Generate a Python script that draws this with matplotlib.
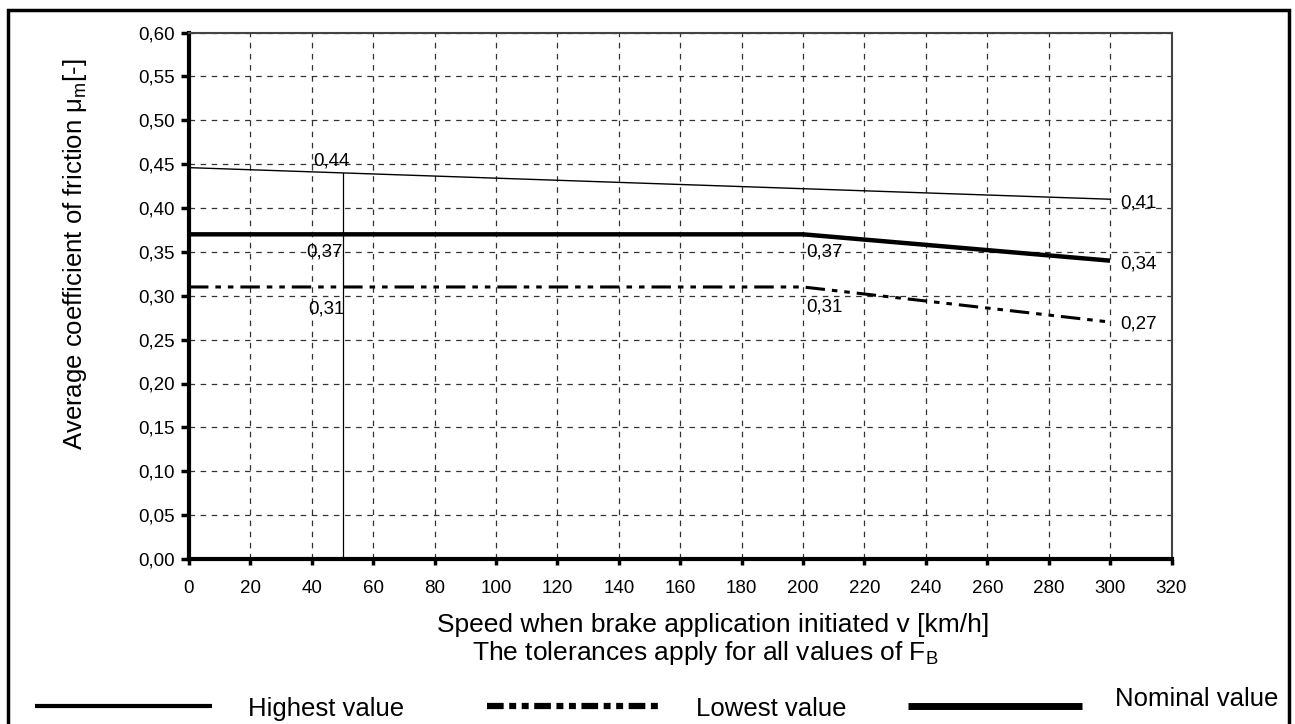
import matplotlib
matplotlib.use("Agg")
import matplotlib.pyplot as plt
from matplotlib.lines import Line2D
from matplotlib.patches import Rectangle

plt.rcParams['font.family'] = ['Liberation Sans', 'DejaVu Sans']
plt.rcParams['mathtext.fontset'] = 'custom'
plt.rcParams['mathtext.rm'] = 'Liberation Sans'
plt.rcParams['mathtext.it'] = 'Liberation Sans'
plt.rcParams['lines.scale_dashes'] = False

# data
highest_v = [0, 300]
highest_mu = [0.446, 0.41]
nominal_v = [0, 200, 300]
nominal_mu = [0.37, 0.37, 0.34]
lowest_v = [0, 200, 300]
lowest_mu = [0.31, 0.31, 0.27]
marker_v = 50
marker_mu = 0.44

# value labels: (x, baseline y, text)
value_labels = [
    (40.4, 0.448, "0,44"),
    (38.1, 0.345, "0,37"),
    (38.8, 0.280, "0,31"),
    (201, 0.345, "0,37"),
    (201, 0.2815, "0,31"),
    (303.2, 0.401, "0,41"),
    (303.2, 0.3316, "0,34"),
    (303.2, 0.2632, "0,27"),
]

x_ticks = list(range(0, 321, 20))
y_ticks = [i * 0.05 for i in range(13)]
y_ticklabels = [f"{v:.2f}".replace(".", ",") for v in y_ticks]

W, H = 1295, 724
fig = plt.figure(figsize=(W / 100, H / 100), dpi=100)
ax = fig.add_axes([189 / W, 1 - 559 / H, (1171.5 - 189) / W, (559 - 32.5) / H])

ax.set_xlim(0, 320)
ax.set_ylim(0, 0.60)
ax.set_xticks(x_ticks)
ax.set_yticks(y_ticks)
ax.set_yticklabels(y_ticklabels)
ax.tick_params(axis='y', direction='out', length=6, width=2.5, labelsize=13.5, pad=4)
ax.tick_params(axis='x', direction='out', length=4, width=2.5, labelsize=13.5, pad=11)
ax.grid(True, color='#333333', linewidth=0.9, linestyle=(0, (4, 4)))
ax.set_axisbelow(True)

for side in ['left', 'bottom']:
    ax.spines[side].set_linewidth(3)
for side in ['top', 'right']:
    ax.spines[side].set_linewidth(1.5)
    ax.spines[side].set_color('#444444')

ax.plot(highest_v, highest_mu, color='black', linewidth=1.0)
ax.plot(nominal_v, nominal_mu, color='black', linewidth=3.2, solid_capstyle='butt')
ld, = ax.plot(lowest_v, lowest_mu, color='black', linewidth=2.2)
ld.set_dashes([14, 5, 4, 5, 4, 5])
ax.plot([marker_v, marker_v], [0, marker_mu], color='black', linewidth=0.9)

for x, y, t in value_labels:
    ax.text(x, y, t, fontsize=13.5, ha='left', va='baseline')

fig.text(75 / W, 1 - 254 / H, r"Average coefficient of friction $\mathrm{\mu_m}$[-]",
         fontsize=18.5, rotation=90, ha='center', va='center')

fig.text(713 / W, 1 - 632 / H, "Speed when brake application initiated v [km/h]",
         fontsize=19, ha='center', va='baseline')
fig.text(705 / W, 1 - 660 / H, r"The tolerances apply for all values of F$_\mathrm{B}$",
         fontsize=19, ha='center', va='baseline')

# legend drawn manually along the bottom
legend_items = [
    ((35, 212), (248, 716), "Highest value", 3, None),
    ((487, 661), (696, 716), "Lowest value", 4.5, [12, 4, 5, 4, 5, 4]),
    ((908, 1082), (1115, 706), "Nominal value", 5, None),
]
for (x0, x1), (tx, ty), label, lw, dashes in legend_items:
    ln = Line2D([x0 / W, x1 / W], [1 - 706 / H, 1 - 706 / H],
                transform=fig.transFigure, color='black', linewidth=lw, solid_capstyle='butt')
    if dashes:
        ln.set_dashes(dashes)
    fig.add_artist(ln)
    fig.text(tx / W, 1 - ty / H, label, fontsize=18.5, ha='left', va='baseline')

# outer frame
fig.add_artist(Rectangle((8 / W, -0.05), (1289 - 8) / W, 1.05 - 10 / H,
                         transform=fig.transFigure, fill=False, edgecolor='black', linewidth=2.5))

fig.savefig("out.png", dpi=100)
